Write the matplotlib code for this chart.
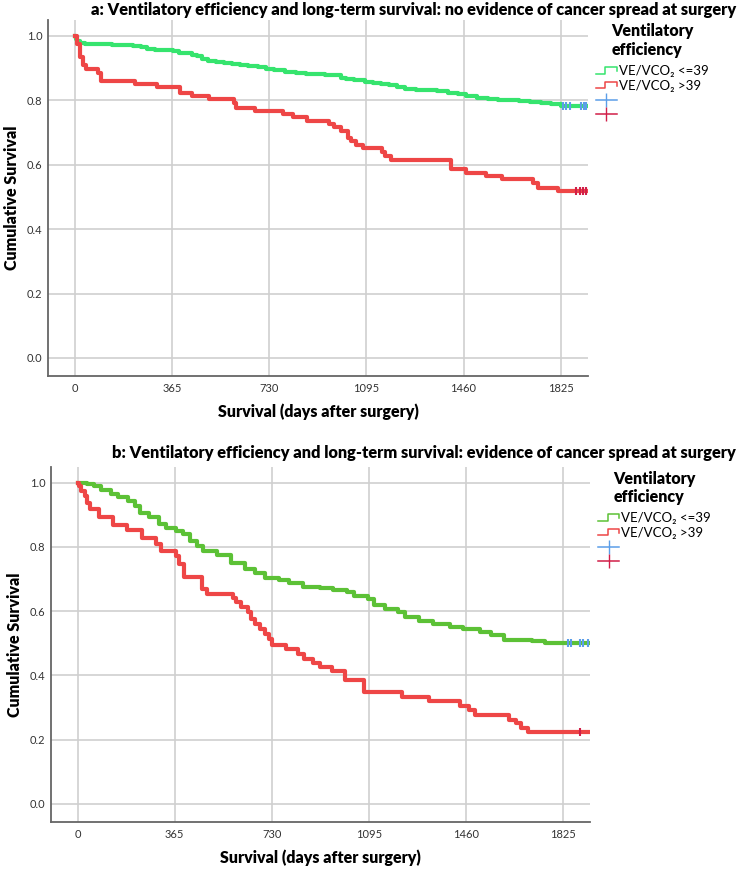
import numpy as np
import matplotlib
matplotlib.use("Agg")
import matplotlib.pyplot as plt
from matplotlib.lines import Line2D
from matplotlib.legend_handler import HandlerBase

plt.rcParams['font.family'] = ['Lato', 'DejaVu Sans']

# ---- data (days, cumulative survival) ----
xticks = [0, 365, 730, 1095, 1460, 1825]
yticks = [0.0, 0.2, 0.4, 0.6, 0.8, 1.0]

# panel a: no evidence of cancer spread
green_a_days = [0, 5, 10, 20, 40, 70, 100, 140, 180, 220, 250, 270, 300, 340, 370,
                390, 410, 440, 460, 480, 500, 530, 560, 590, 620, 650, 690, 720, 750, 790,
                830, 870, 900, 940, 980, 1000, 1020, 1050, 1090, 1120, 1150, 1180, 1210, 1240, 1280,
                1320, 1360, 1400, 1440, 1470, 1510, 1550, 1590, 1630, 1670, 1710, 1750, 1790, 1825, 1925]
green_a_surv = [1.0, 0.99, 0.984, 0.978, 0.976, 0.975, 0.974, 0.972, 0.970, 0.968, 0.964, 0.958, 0.957, 0.955, 0.953,
                0.948, 0.945, 0.941, 0.937, 0.928, 0.923, 0.920, 0.917, 0.912, 0.909, 0.905, 0.902, 0.897, 0.893, 0.889,
                0.885, 0.881, 0.880, 0.879, 0.877, 0.870, 0.866, 0.863, 0.858, 0.854, 0.850, 0.846, 0.840, 0.835, 0.833,
                0.831, 0.828, 0.823, 0.819, 0.812, 0.806, 0.804, 0.802, 0.800, 0.797, 0.794, 0.791, 0.787, 0.782, 0.782]
green_a_cens = [1835, 1845, 1858, 1900, 1911, 1921]

red_a_days = [0, 9, 22, 32, 41, 86, 99, 228, 311, 395, 440, 504, 600, 607, 678,
              781, 819, 871, 954, 974, 999, 1025, 1038, 1057, 1083, 1154, 1166, 1186, 1411, 1469,
              1546, 1604, 1719, 1739, 1816, 1925]
red_a_surv = [1.0, 0.976, 0.935, 0.909, 0.897, 0.883, 0.859, 0.850, 0.840, 0.823, 0.814, 0.804, 0.790, 0.775, 0.765,
              0.756, 0.747, 0.737, 0.727, 0.716, 0.703, 0.682, 0.672, 0.662, 0.651, 0.640, 0.627, 0.614, 0.586, 0.575,
              0.565, 0.556, 0.542, 0.529, 0.518, 0.518]
red_a_cens = [1882, 1896, 1909, 1920]

# panel b: evidence of cancer spread
green_b_days = [0, 36, 62, 87, 126, 152, 190, 216, 235, 267, 306, 332, 370, 396, 422,
                448, 473, 525, 576, 628, 666, 705, 756, 795, 846, 910, 962, 1013, 1039, 1091,
                1116, 1155, 1206, 1232, 1283, 1335, 1399, 1451, 1515, 1553, 1605, 1708, 1759, 1836, 1925]
green_b_surv = [1.0, 0.995, 0.990, 0.976, 0.966, 0.956, 0.943, 0.928, 0.907, 0.894, 0.873, 0.858, 0.850, 0.842, 0.819,
                0.802, 0.788, 0.776, 0.749, 0.731, 0.718, 0.703, 0.697, 0.687, 0.676, 0.672, 0.666, 0.659, 0.649, 0.638,
                0.618, 0.607, 0.597, 0.583, 0.571, 0.561, 0.550, 0.545, 0.535, 0.525, 0.511, 0.506, 0.502, 0.501, 0.501]
green_b_cens = [1843, 1856, 1888, 1901, 1920]

red_b_days = [0, 4, 13, 26, 36, 45, 81, 132, 184, 242, 293, 313, 370, 383, 399,
              467, 486, 583, 595, 615, 640, 653, 666, 685, 705, 718, 730, 782, 827, 853,
              885, 911, 956, 1007, 1078, 1219, 1322, 1438, 1470, 1496, 1624, 1650, 1669, 1692, 1925]
red_b_surv = [1.0, 0.990, 0.974, 0.959, 0.938, 0.919, 0.894, 0.869, 0.852, 0.828, 0.809, 0.788, 0.773, 0.747, 0.707,
              0.669, 0.654, 0.641, 0.628, 0.614, 0.597, 0.576, 0.561, 0.545, 0.530, 0.514, 0.494, 0.481, 0.468, 0.452,
              0.439, 0.426, 0.413, 0.387, 0.349, 0.333, 0.320, 0.304, 0.292, 0.276, 0.263, 0.251, 0.238, 0.225, 0.225]
red_b_cens = [1890]

legend_labels = ['VE/VCO\u2082 <=39', 'VE/VCO\u2082 >39', '', '']


class StepHandler(HandlerBase):
    # little step-shaped line used in the legend
    def create_artists(self, legend, orig, xdescent, ydescent, width, height, fontsize, trans):
        x = np.array([0, 0.45, 0.45, 1.0, 1.0]) * width - xdescent
        y = np.array([0.15, 0.15, 0.85, 0.85, 0.4]) * height - ydescent
        ln = Line2D(x, y, color=orig.get_color(), lw=1.1, transform=trans)
        return [ln]


def km_panel(ax, g_days, g_surv, g_cens, r_days, r_surv, r_cens, gcol):
    red = '#ee4646'
    ax.step(g_days, g_surv, where='post', color=gcol, lw=3, zorder=3)
    ax.step(r_days, r_surv, where='post', color=red, lw=3, zorder=3)
    # censored marks sit on the final level of each curve
    gy = np.interp(g_cens, g_days, g_surv)
    ry = np.interp(r_cens, r_days, r_surv)
    ax.plot(g_cens, gy, '|', color='#5b9ee8', ms=6, mew=1.5, zorder=4)
    ax.plot(r_cens, ry, '|', color='#d11e48', ms=6, mew=1.5, zorder=4)

    ax.set_xlim(-100, 1927)
    ax.set_ylim(-0.056, 1.049)
    ax.set_xticks(xticks)
    ax.set_yticks(yticks)
    ax.set_yticklabels(['%.1f' % v for v in yticks])
    ax.grid(True, color='#cfcfcf', lw=1.2)
    ax.set_axisbelow(True)
    ax.tick_params(length=0, labelsize=8, colors='#333333')
    ax.tick_params(axis='x', pad=5)
    ax.tick_params(axis='y', pad=4)
    for s in ['top', 'right']:
        ax.spines[s].set_visible(False)
    for s in ['left', 'bottom']:
        ax.spines[s].set_color('#666666')
        ax.spines[s].set_linewidth(1.3)

    ax.set_xlabel('Survival (days after surgery)', fontsize=11.5, fontweight='heavy')
    ax.set_ylabel('Cumulative Survival', fontsize=11.5, fontweight='heavy')
    ax.xaxis.label.set_va('center')
    ax.yaxis.label.set_va('center')
    ax.xaxis.set_label_coords(0.5, -0.101)
    ax.yaxis.set_label_coords(-0.067, 0.5)

    handles = [Line2D([], [], color=gcol), Line2D([], [], color=red),
               Line2D([], [], color='#5b9ee8', marker='|', ms=10, lw=1.1),
               Line2D([], [], color='#d11e48', marker='|', ms=10, lw=1.1)]
    leg = ax.legend(handles, legend_labels, loc='upper left', bbox_to_anchor=(1.005, 1.005),
                    frameon=False, fontsize=9.5, title='Ventilatory\nefficiency',
                    title_fontproperties={'weight': 'heavy', 'size': 11.5},
                    handlelength=1.6, handletextpad=0.15, labelspacing=0.2,
                    borderaxespad=0.0, numpoints=1, alignment='center',
                    handler_map={handles[0]: StepHandler(), handles[1]: StepHandler()})
    leg._legend_box.sep = 5


fig = plt.figure(figsize=(7.38, 8.69), dpi=100)
ax_a = fig.add_axes([0.0650, 0.5673, 0.7317, 0.4097])
ax_b = fig.add_axes([0.0691, 0.0541, 0.7304, 0.4085])

km_panel(ax_a, green_a_days, green_a_surv, green_a_cens,
         red_a_days, red_a_surv, red_a_cens, '#36e46e')
km_panel(ax_b, green_b_days, green_b_surv, green_b_cens,
         red_b_days, red_b_surv, red_b_cens, '#5cc136')

fig.text(0.997, 1 - 10 / 869,
         'a: Ventilatory efficiency and long-term survival: no evidence of cancer spread at surgery',
         ha='right', va='center', fontsize=11.8, fontweight='heavy')
fig.text(0.997, 1 - 453 / 869,
         'b: Ventilatory efficiency and long-term survival: evidence of cancer spread at surgery',
         ha='right', va='center', fontsize=11.8, fontweight='heavy')

fig.savefig('out.png', dpi=100)
